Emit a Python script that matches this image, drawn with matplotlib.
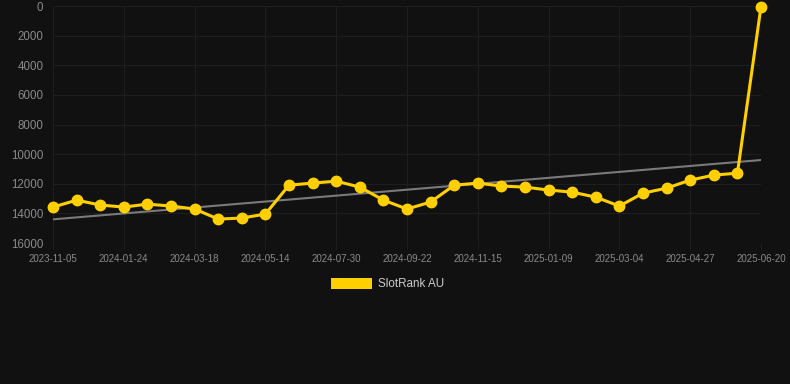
import numpy as np
import matplotlib
matplotlib.use("Agg")
import matplotlib.pyplot as plt
from matplotlib.patches import Patch

# rank values, one point per period
ranks = [13570, 13100, 13430, 13570, 13370, 13500, 13700, 14380, 14310, 14040,
         12090, 11950, 11820, 12220, 13100, 13700, 13230, 12090, 11950, 12150,
         12220, 12420, 12560, 12900, 13500, 12630, 12290, 11750, 11410, 11280,
         30]
tick_labels = ["2023-11-05", "2024-01-24", "2024-03-18", "2024-05-14", "2024-07-30",
               "2024-09-22", "2024-11-15", "2025-01-09", "2025-03-04", "2025-04-27",
               "2025-06-20"]
y_ticks = [0, 2000, 4000, 6000, 8000, 10000, 12000, 14000, 16000]

bg = "#111111"
gold = "#ffd000"

plt.rcParams['font.family'] = ['Liberation Sans', 'DejaVu Sans']

fig = plt.figure(figsize=(7.9, 3.84), dpi=100, facecolor=bg)
ax = fig.add_axes([0.0671, 0.367, 0.8962, 0.617], facecolor=bg)

x = np.arange(len(ranks))
slope, icpt = np.polyfit(x, ranks, 1)
ax.plot(x, slope * x + icpt, color="#7a7a7a", lw=1.5, zorder=2)
ax.plot(x, ranks, color=gold, lw=2.2, marker="o", ms=7.5, zorder=3, clip_on=False)

ax.set_xlim(0, len(ranks) - 1)
ax.set_ylim(16000, 0)
ax.set_yticks(y_ticks)
ax.set_yticklabels([str(v) for v in y_ticks])
ax.set_xticks(x[::3])
ax.set_xticklabels(tick_labels)

ax.grid(True, color="#1e1e1e", lw=0.8)
for s in ax.spines.values():
    s.set_visible(False)
ax.tick_params(axis="y", length=0, pad=7, labelsize=8.3, labelcolor="#8a8a8a")
ax.tick_params(axis="x", length=4, color="#1e1e1e", pad=4, labelsize=7, labelcolor="#8a8a8a")

leg = fig.legend(handles=[Patch(facecolor=gold, label="SlotRank AU")],
                 loc="center", bbox_to_anchor=(0.4905, 0.26), frameon=False,
                 handlelength=3.5, handleheight=1.1, handletextpad=0.5,
                 fontsize=8.4, labelcolor="#cccccc")

fig.savefig("out.png", dpi=100, facecolor=bg)
